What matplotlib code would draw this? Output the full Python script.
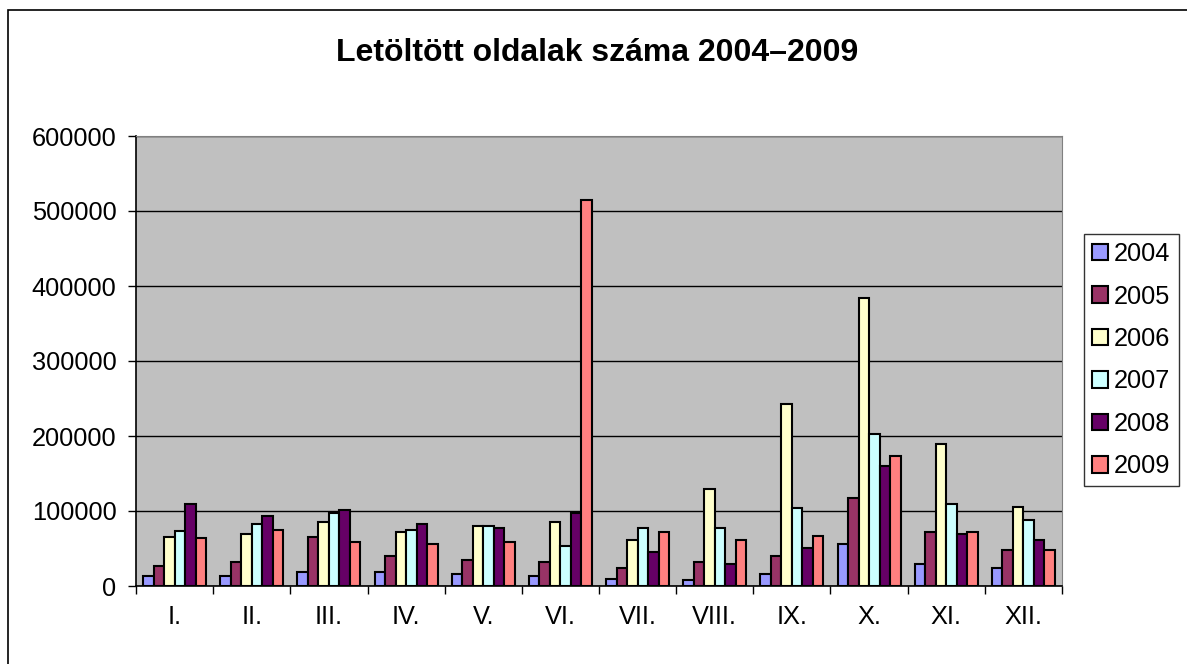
import numpy as np
import matplotlib.pyplot as plt
from matplotlib.patches import Rectangle

plt.rcParams['font.family'] = ['Liberation Sans', 'DejaVu Sans']

# Data
months = ['I.', 'II.', 'III.', 'IV.', 'V.', 'VI.', 'VII.', 'VIII.', 'IX.', 'X.', 'XI.', 'XII.']
years = ['2004', '2005', '2006', '2007', '2008', '2009']
v2004 = [13000, 13000, 19000, 19000, 16000, 13000, 10000, 8000, 16000, 56000, 29000, 24000]
v2005 = [27000, 32000, 66000, 40000, 35000, 32000, 24000, 32000, 40000, 117000, 72000, 48000]
v2006 = [66000, 69000, 85000, 72000, 80000, 85000, 61000, 130000, 243000, 384000, 189000, 106000]
v2007 = [74000, 83000, 98000, 75000, 80000, 53000, 77000, 77000, 104000, 203000, 109000, 88000]
v2008 = [109000, 94000, 101000, 83000, 77000, 98000, 45000, 29000, 51000, 160000, 69000, 61000]
v2009 = [64000, 75000, 59000, 56000, 59000, 515000, 72000, 61000, 67000, 173000, 72000, 48000]
series = [v2004, v2005, v2006, v2007, v2008, v2009]
colors = ['#9999FF', '#993366', '#FFFFCC', '#CCFFFF', '#660066', '#FF8080']

fig = plt.figure(figsize=(11.87, 6.64), dpi=100)
fig.patches.append(Rectangle((8 / 1187, -0.1), 1.2, (664 - 10) / 664 + 0.1,
                             transform=fig.transFigure, fill=False,
                             edgecolor='black', linewidth=1.2))

ax = fig.add_axes([136 / 1187, 78 / 664, 926 / 1187, 450 / 664])
ax.set_facecolor('#C0C0C0')

n = len(series)
gap = 1.33
w = 1.0 / (n + gap)
x = np.arange(len(months))
for k, (vals, c) in enumerate(zip(series, colors)):
    ax.bar(x + gap * w / 2 + k * w, vals, width=w, align='edge', color=c,
           edgecolor='black', linewidth=1.5, label=years[k], zorder=3)

ax.set_xlim(0, len(months))
ax.set_ylim(0, 600000)
ax.set_yticks(np.arange(0, 600001, 100000))
ax.set_yticklabels([str(v) for v in range(0, 600001, 100000)], fontsize=18.3)
ax.yaxis.grid(True, color='black', linewidth=1.0, zorder=1)
ax.set_axisbelow(True)

ax.set_xticks(x + 0.5)
ax.set_xticklabels(months, fontsize=18.3)
ax.set_xticks(np.arange(0, len(months) + 1), minor=True)
ax.tick_params(axis='x', which='major', length=0, pad=14)
ax.tick_params(axis='x', which='minor', length=6, width=1, direction='out')
ax.tick_params(axis='y', length=6, width=1, direction='out', pad=8)

for s in ['top', 'right']:
    ax.spines[s].set_color('#808080')
for s in ['left', 'bottom']:
    ax.spines[s].set_color('black')
    ax.spines[s].set_linewidth(1.2)

fig.text(597 / 1187, 1 - 53 / 664, 'Letöltött oldalak száma 2004–2009',
         ha='center', va='center', fontsize=23, fontweight='bold')

leg = fig.legend(loc='upper left', bbox_to_anchor=(1084 / 1187, 1 - 234 / 664),
                 fontsize=18.3, frameon=True, fancybox=False, edgecolor='black',
                 handlelength=0.62, handleheight=0.62, handletextpad=0.25,
                 labelspacing=0.725, borderpad=0.32, borderaxespad=0)
leg.get_frame().set_linewidth(1.0)

fig.savefig('out.png', dpi=100)
